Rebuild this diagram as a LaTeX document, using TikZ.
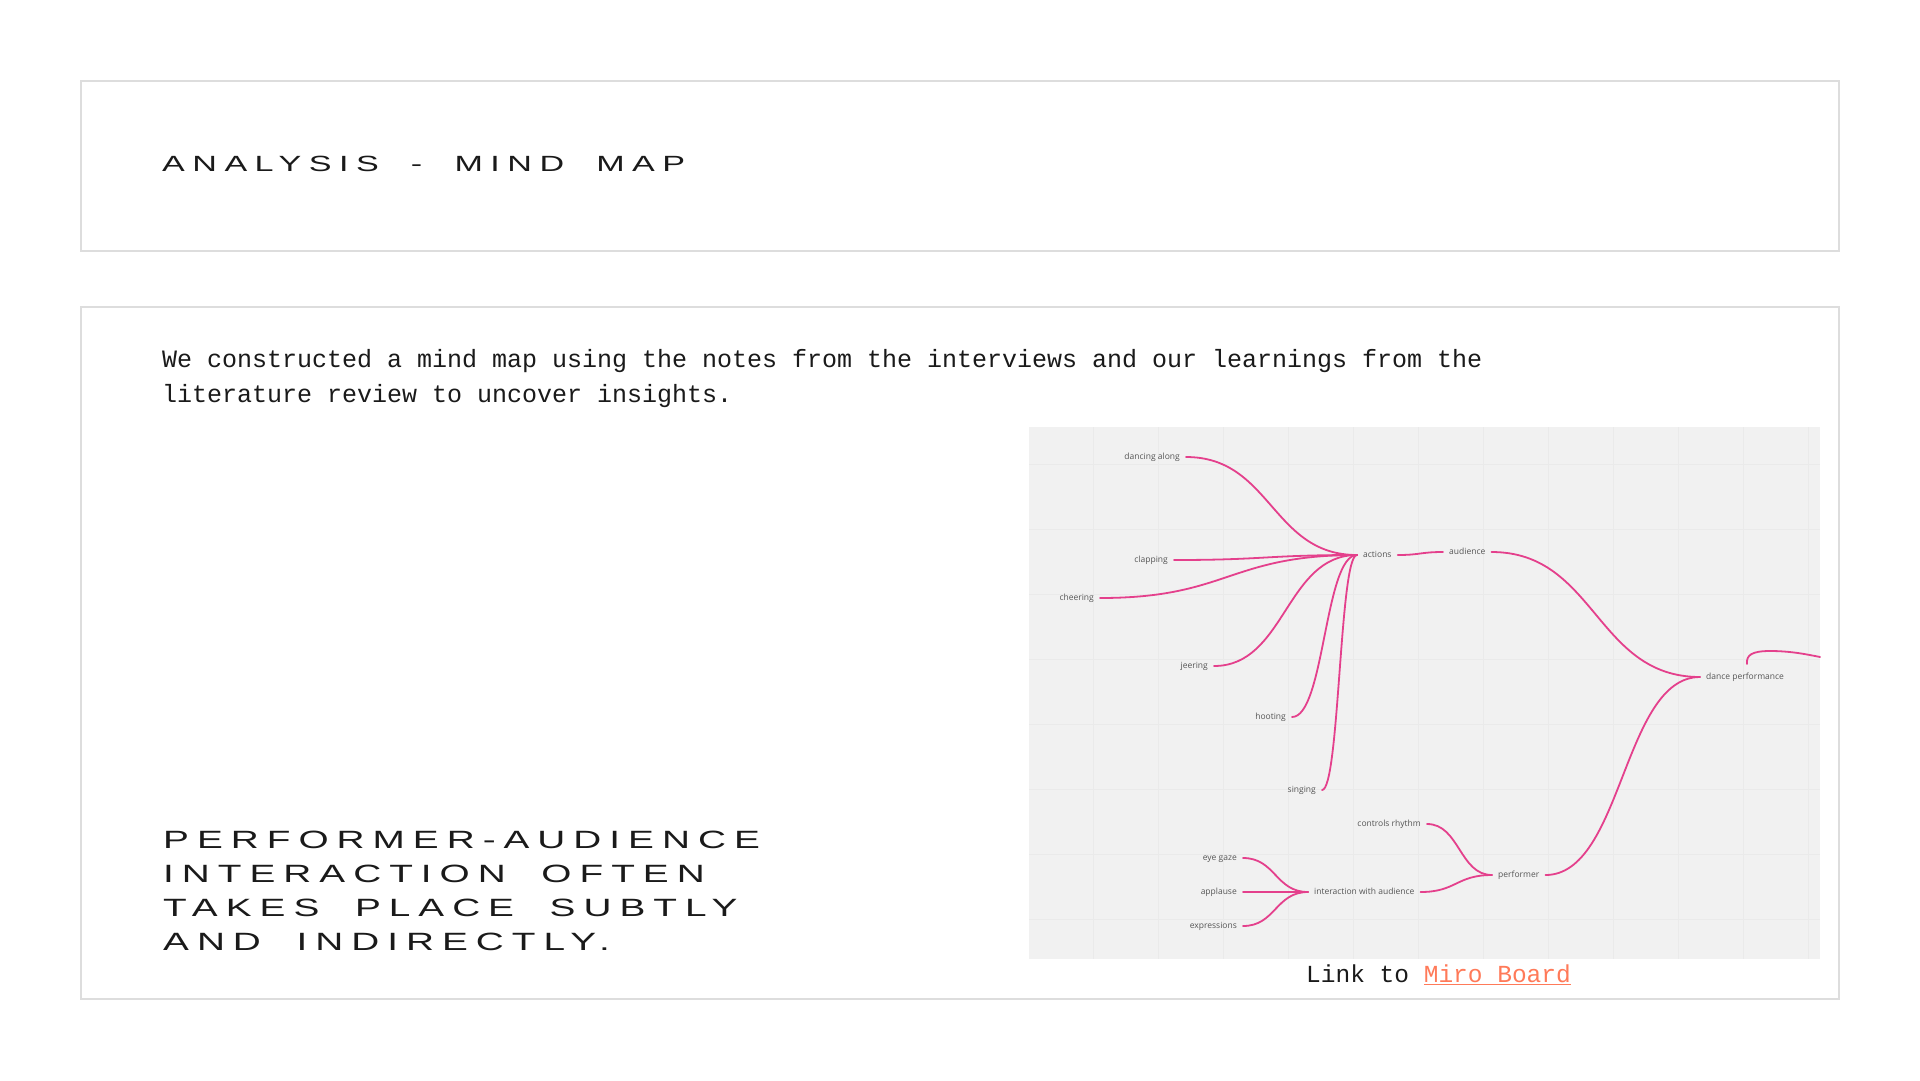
\documentclass[tikz,border=0pt]{standalone}
\usepackage{fontspec}
\usetikzlibrary{calc}
\setmainfont{Liberation Sans}
\newfontfamily\monof{Liberation Mono}
\newfontfamily\widef[FakeStretch=1.55,LetterSpace=34,WordSpace=1.9]{Liberation Sans}
\newfontfamily\widestf[FakeStretch=1.55,LetterSpace=32,WordSpace=1.9]{Liberation Sans}
\newfontfamily\mapf{Open Sans}
\definecolor{boxline}{HTML}{DDDDDD}
\definecolor{mapbg}{HTML}{F1F1F1}
\definecolor{mapgrid}{HTML}{EAEAEA}
\definecolor{mmpink}{RGB}{228,64,140}
\definecolor{maptext}{HTML}{555555}
\definecolor{linkc}{HTML}{FF7A59}
\definecolor{ink}{HTML}{1A1A1A}
\tikzset{
  panel/.style={draw=boxline,line width=2pt},
  heading/.style={anchor=base west,inner sep=0pt,text=ink,font=\widef\fontsize{22}{26}\selectfont},
  statement/.style={anchor=base west,inner sep=0pt,text=ink,font=\widestf\fontsize{25}{30}\selectfont},
  body/.style={anchor=base west,inner sep=0pt,text=ink,font=\monof\fontsize{25}{35}\selectfont},
  mapnode/.style={inner xsep=6pt,inner ysep=0pt,text height=6.5pt,text depth=2pt,text=maptext,font=\mapf\fontsize{8.5}{10}\selectfont},
  child/.style={mapnode,anchor=east},
  parent/.style={mapnode,anchor=west},
  mm/.style={draw=mmpink,line width=1.8pt,line cap=round},
  scurve/.style={to path={let \p1=(\tikztostart), \p2=(\tikztotarget) in
     .. controls ({0.5*(\x1+\x2)},\y1) and ({0.5*(\x1+\x2)},\y2) .. (\p2) \tikztonodes}}
}
\begin{document}
\begin{tikzpicture}[x=1pt,y=-1pt]
\useasboundingbox[fill=white] (0,0) rectangle (1920,1080);
% panels
\draw[panel] (81,81) rectangle (1839,251);
\draw[panel] (81,307) rectangle (1839,999);
% title
\node[heading] (title) at (162,171.5) {ANALYSIS - MIND MAP};
% paragraph
\node[body] (para1) at (162,367) {We constructed a mind map using the notes from the interviews and our learnings from the};
\node[body] (para2) at (162,402) {literature review to uncover insights.};
% statement
\node[statement] (st1) at (163,848) {PERFORMER-AUDIENCE};
\node[statement] (st2) at (163,882) {INTERACTION OFTEN};
\node[statement] (st3) at (163,916) {TAKES PLACE SUBTLY};
\node[statement] (st4) at (163,950) {AND INDIRECTLY.};
% mind map screenshot background
\fill[mapbg] (1029,427) rectangle (1820,959);
\foreach \gx in {1093,1158,...,1808} \draw[mapgrid,line width=0.6pt] (\gx,427) -- (\gx,959);
\foreach \gy in {464,529,...,919} \draw[mapgrid,line width=0.6pt] (1029,\gy) -- (1820,\gy);
% mind map nodes
\node[child] (dancing) at (1186,457) {dancing along};
\node[child] (clapping) at (1174,560) {clapping};
\node[child] (cheering) at (1100,598) {cheering};
\node[child] (jeering) at (1214,666) {jeering};
\node[child] (hooting) at (1292,717) {hooting};
\node[child] (singing) at (1322,790) {singing};
\node[parent] (actions) at (1357,555) {actions};
\node[parent] (audience) at (1443,552) {audience};
\node[parent] (dance) at (1700,677) {dance performance};
\node[child] (controls) at (1427,824) {controls rhythm};
\node[child] (eyegaze) at (1243,858) {eye gaze};
\node[child] (applause) at (1243,892) {applause};
\node[child] (expressions) at (1243,926) {expressions};
\node[parent] (interaction) at (1308,892) {interaction with audience};
\node[parent] (performer) at (1492,875) {performer};
\coordinate (fragA) at (1747,664);
\coordinate (fragB) at (1820,657);
% connectors
\foreach \c in {dancing,clapping,cheering,jeering,hooting,singing}
  \draw[mm] (\c.east) to[scurve] (actions.west);
\draw[mm] (actions.east) to[scurve] (audience.west);
\draw[mm] (audience.east) to[scurve] (dance.west);
\draw[mm] (performer.east) to[scurve] (dance.west);
\draw[mm] (controls.east) to[scurve] (performer.west);
\draw[mm] (interaction.east) to[scurve] (performer.west);
\foreach \c in {eyegaze,applause,expressions}
  \draw[mm] (\c.east) to[scurve] (interaction.west);
\draw[mm] (fragA) .. controls (1746,655) and (1752,651) .. (1770,651) .. controls (1790,651) and (1805,654) .. (fragB);
% link
\node[anchor=base west,inner sep=0pt,text=ink,font=\monof\fontsize{24.5}{30}\selectfont] (link) at (1306,982) {Link to \textcolor{linkc}{\underline{Miro Board}}};
\end{tikzpicture}
\end{document}
